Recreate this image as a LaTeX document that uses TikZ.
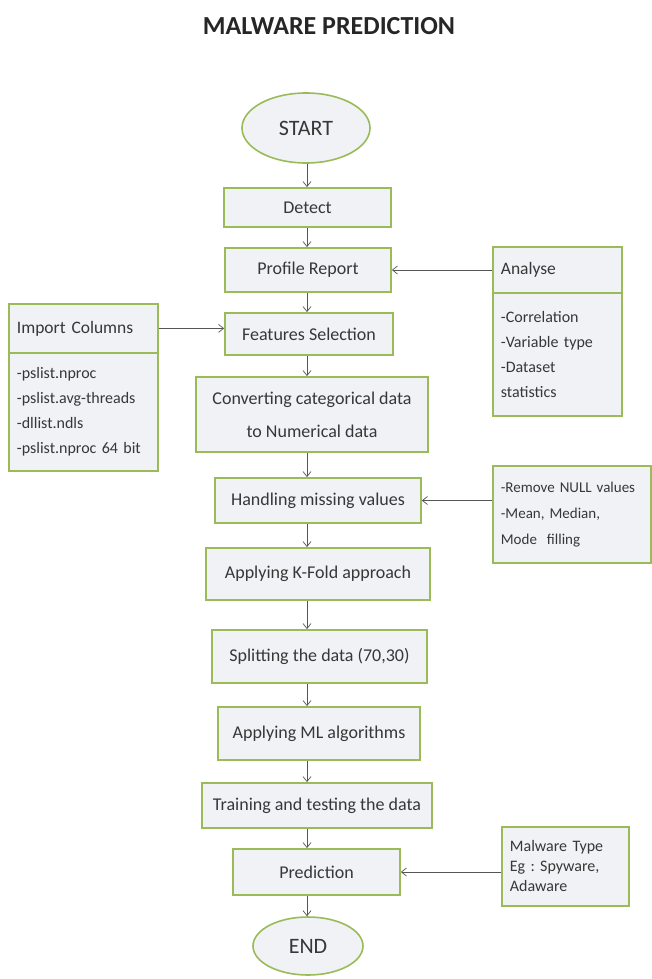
\documentclass[tikz,border=0pt]{standalone}
\usepackage{fontspec}
\setmainfont{Carlito}
\usetikzlibrary{arrows.meta,shapes.geometric}
\definecolor{bord}{RGB}{155,187,89}
\definecolor{boxfill}{RGB}{241,242,246}
\definecolor{txt}{RGB}{55,55,55}
\definecolor{arrc}{RGB}{85,85,85}
\begin{document}
\frenchspacing
\begin{tikzpicture}[x=1pt,y=-1pt,
  box/.style={draw=bord, line width=1.8pt, fill=boxfill, text=txt, inner sep=0pt,
    font=\fontsize{18}{33}\selectfont, align=center},
  term/.style={ellipse, draw=bord, line width=1.6pt, fill=boxfill, text=txt, inner sep=0pt,
    font=\fontsize{22}{26}\selectfont},
  sidehead/.style={draw=bord, line width=1.8pt, fill=boxfill, text=txt, inner xsep=8pt, inner ysep=0pt,
    font=\fontsize{17.5}{21}\selectfont, align=left, anchor=north west},
  sidelist/.style={draw=bord, line width=1.8pt, fill=boxfill, text=txt, inner xsep=8pt, inner ysep=0pt,
    font=\fontsize{16}{25}\selectfont, align=left, anchor=north west},
  conn/.style={draw=arrc, line width=0.7pt, -{Straight Barb[length=5pt,width=8pt]}}]
\useasboundingbox[fill=white] (0,0) rectangle (652,979);

\node[font=\fontsize{26}{30}\selectfont\bfseries, text=black!85] (title) at (329,26) {MALWARE PREDICTION};

\coordinate (ax) at (307,0);

\node[term, minimum width=128pt, minimum height=70pt] (start) at (306,128) {START};
\node[box, minimum width=167pt, minimum height=39pt] (detect) at (307.5,207.5) {Detect};
\node[box, minimum width=166pt, minimum height=44pt] (profile) at (308,270) {Profile Report};
\node[box, minimum width=168pt, minimum height=42pt] (feat) at (309,334) {Features Selection};
\node[box, minimum width=232pt, minimum height=75pt] (conv) at (312,414.5) {Converting categorical data\\to Numerical data};
\node[box, minimum width=206pt, minimum height=45pt] (hand) at (318,500.5) {Handling missing values};
\node[box, minimum width=224pt, minimum height=52pt] (kfold) at (318,574) {Applying K-Fold approach};
\node[box, minimum width=215pt, minimum height=53pt] (split) at (319.5,656.5) {Splitting the data (70,30)};
\node[box, minimum width=202pt, minimum height=53pt] (ml) at (319,733.5) {Applying ML algorithms};
\node[box, minimum width=230pt, minimum height=45pt] (train) at (317,805.5) {Training and testing the data};
\node[box, minimum width=167pt, minimum height=46pt] (pred) at (316.5,872) {Prediction};
\node[term, minimum width=110pt, minimum height=58pt] (end) at (308,946) {END};

% Import Columns
\node[sidehead, text width=133pt, minimum height=49pt] (imph) at (8,303) {Import Columns};
\node[sidelist, text width=133pt, minimum height=118pt] (impl) at (8,352)
  {-pslist.nproc\\-pslist.avg-threads\\-dllist.ndls\\-pslist.nproc 64 bit};

% Analyse
\node[sidehead, text width=113pt, minimum height=46pt] (anh) at (492,246) {Analyse};
\node[sidelist, text width=113pt, minimum height=123pt] (anl) at (492,292)
  {-Correlation\\-Variable type\\-Dataset\\statistics};

% Remove NULL
\node[sidelist, text width=142pt, minimum height=97pt, font=\fontsize{15}{26}\selectfont] (nullb) at (492,465)
  {-Remove NULL values\\-Mean, Median,\\Mode~~filling};

% Malware type
\node[sidelist, text width=111pt, minimum height=79pt, font=\fontsize{16}{20}\selectfont] (mtype) at (501,826)
  {Malware Type\\Eg : Spyware,\\Adaware};

% main flow
\draw[conn] (start.south -| ax) -- (detect.north -| ax);
\draw[conn] (detect.south -| ax) -- (profile.north -| ax);
\draw[conn] (profile.south -| ax) -- (feat.north -| ax);
\draw[conn] (feat.south -| ax) -- (conv.north -| ax);
\draw[conn] (conv.south -| ax) -- (hand.north -| ax);
\draw[conn] (hand.south -| ax) -- (kfold.north -| ax);
\draw[conn] (kfold.south -| ax) -- (split.north -| ax);
\draw[conn] (split.south -| ax) -- (ml.north -| ax);
\draw[conn] (ml.south -| ax) -- (train.north -| ax);
\draw[conn] (train.south -| ax) -- (pred.north -| ax);
\draw[conn] (pred.south -| ax) -- (end.north -| ax);

% side connectors
\draw[conn] (anh.west |- profile.east) -- (profile.east);
\draw[conn] (imph.east) -- (feat.west |- imph.east);
\draw[conn] (nullb.west |- hand.east) -- (hand.east);
\draw[conn] (mtype.west |- pred.east) -- (pred.east);
\end{tikzpicture}
\end{document}
